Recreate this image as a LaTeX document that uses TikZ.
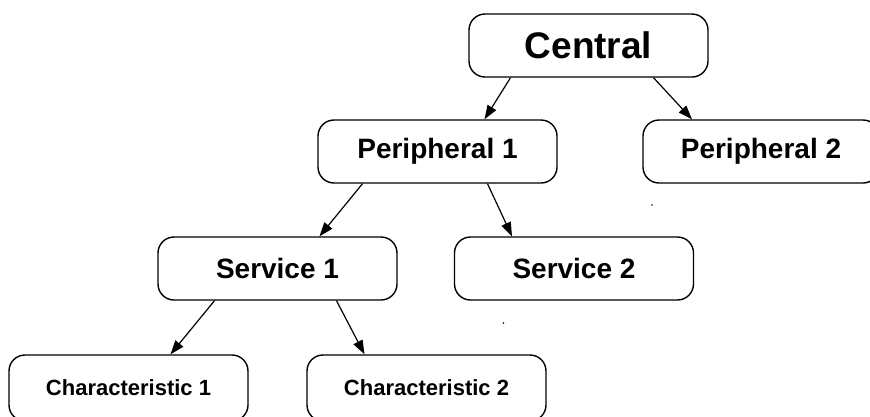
\documentclass[tikz,border=0pt]{standalone}
\usepackage{fontspec}
\setmainfont{Liberation Sans}
\usetikzlibrary{arrows.meta}
\begin{document}
\begin{tikzpicture}[x=1pt,y=-1pt,
  box/.style={draw=black,line width=1.4pt,rounded corners=16pt,fill=white,
    minimum width=239pt,minimum height=63pt,inner sep=0pt,font=\bfseries},
  link/.style={draw=black,line width=1.2pt,-{Triangle[length=14pt,width=10pt]}},
  speck/.style={fill=black,draw=none}]
  \clip (0,0) rectangle (870,416);
  \useasboundingbox (0,0) rectangle (870,416);
  \fill[white] (0,0) rectangle (870,416);

  % hierarchy boxes
  \node[box,font=\bfseries\fontsize{37}{40}\selectfont] (central) at (588.5,45.5) {Central};
  \node[box,font=\bfseries\fontsize{28}{32}\selectfont] (p1) at (437.5,151.5) {Peripheral 1};
  \node[box,minimum width=236pt,font=\bfseries\fontsize{28}{32}\selectfont] (p2) at (761,151.5) {Peripheral 2};
  \node[box,font=\bfseries\fontsize{28}{32}\selectfont] (s1) at (277.5,268.5) {Service 1};
  \node[box,font=\bfseries\fontsize{28}{32}\selectfont] (s2) at (574,268.5) {Service 2};
  \node[box,minimum height=66pt,font=\bfseries\fontsize{22}{26}\selectfont] (c1) at (128.5,388) {Characteristic 1};
  \node[box,minimum height=66pt,font=\bfseries\fontsize{22}{26}\selectfont] (c2) at (426.5,388) {Characteristic 2};

  % connectors
  \draw[link] ([xshift=-78pt]central.south) -- ([xshift=47pt]p1.north);
  \draw[link] ([xshift=65pt]central.south) -- ([xshift=-69pt]p2.north);
  \draw[link] ([xshift=-75pt]p1.south) -- ([xshift=42pt]s1.north);
  \draw[link] ([xshift=50pt]p1.south) -- ([xshift=-62pt]s2.north);
  \draw[link] ([xshift=-63pt]s1.south) -- ([xshift=42pt]c1.north);
  \draw[link] ([xshift=59pt]s1.south) -- ([xshift=-62pt]c2.north);

  % stray specks
  \coordinate (d1) at (652,205);
  \coordinate (d2) at (503.5,323);
  \fill[speck] (d1) circle (0.9pt);
  \fill[speck] (d2) circle (0.9pt);
\end{tikzpicture}
\end{document}
